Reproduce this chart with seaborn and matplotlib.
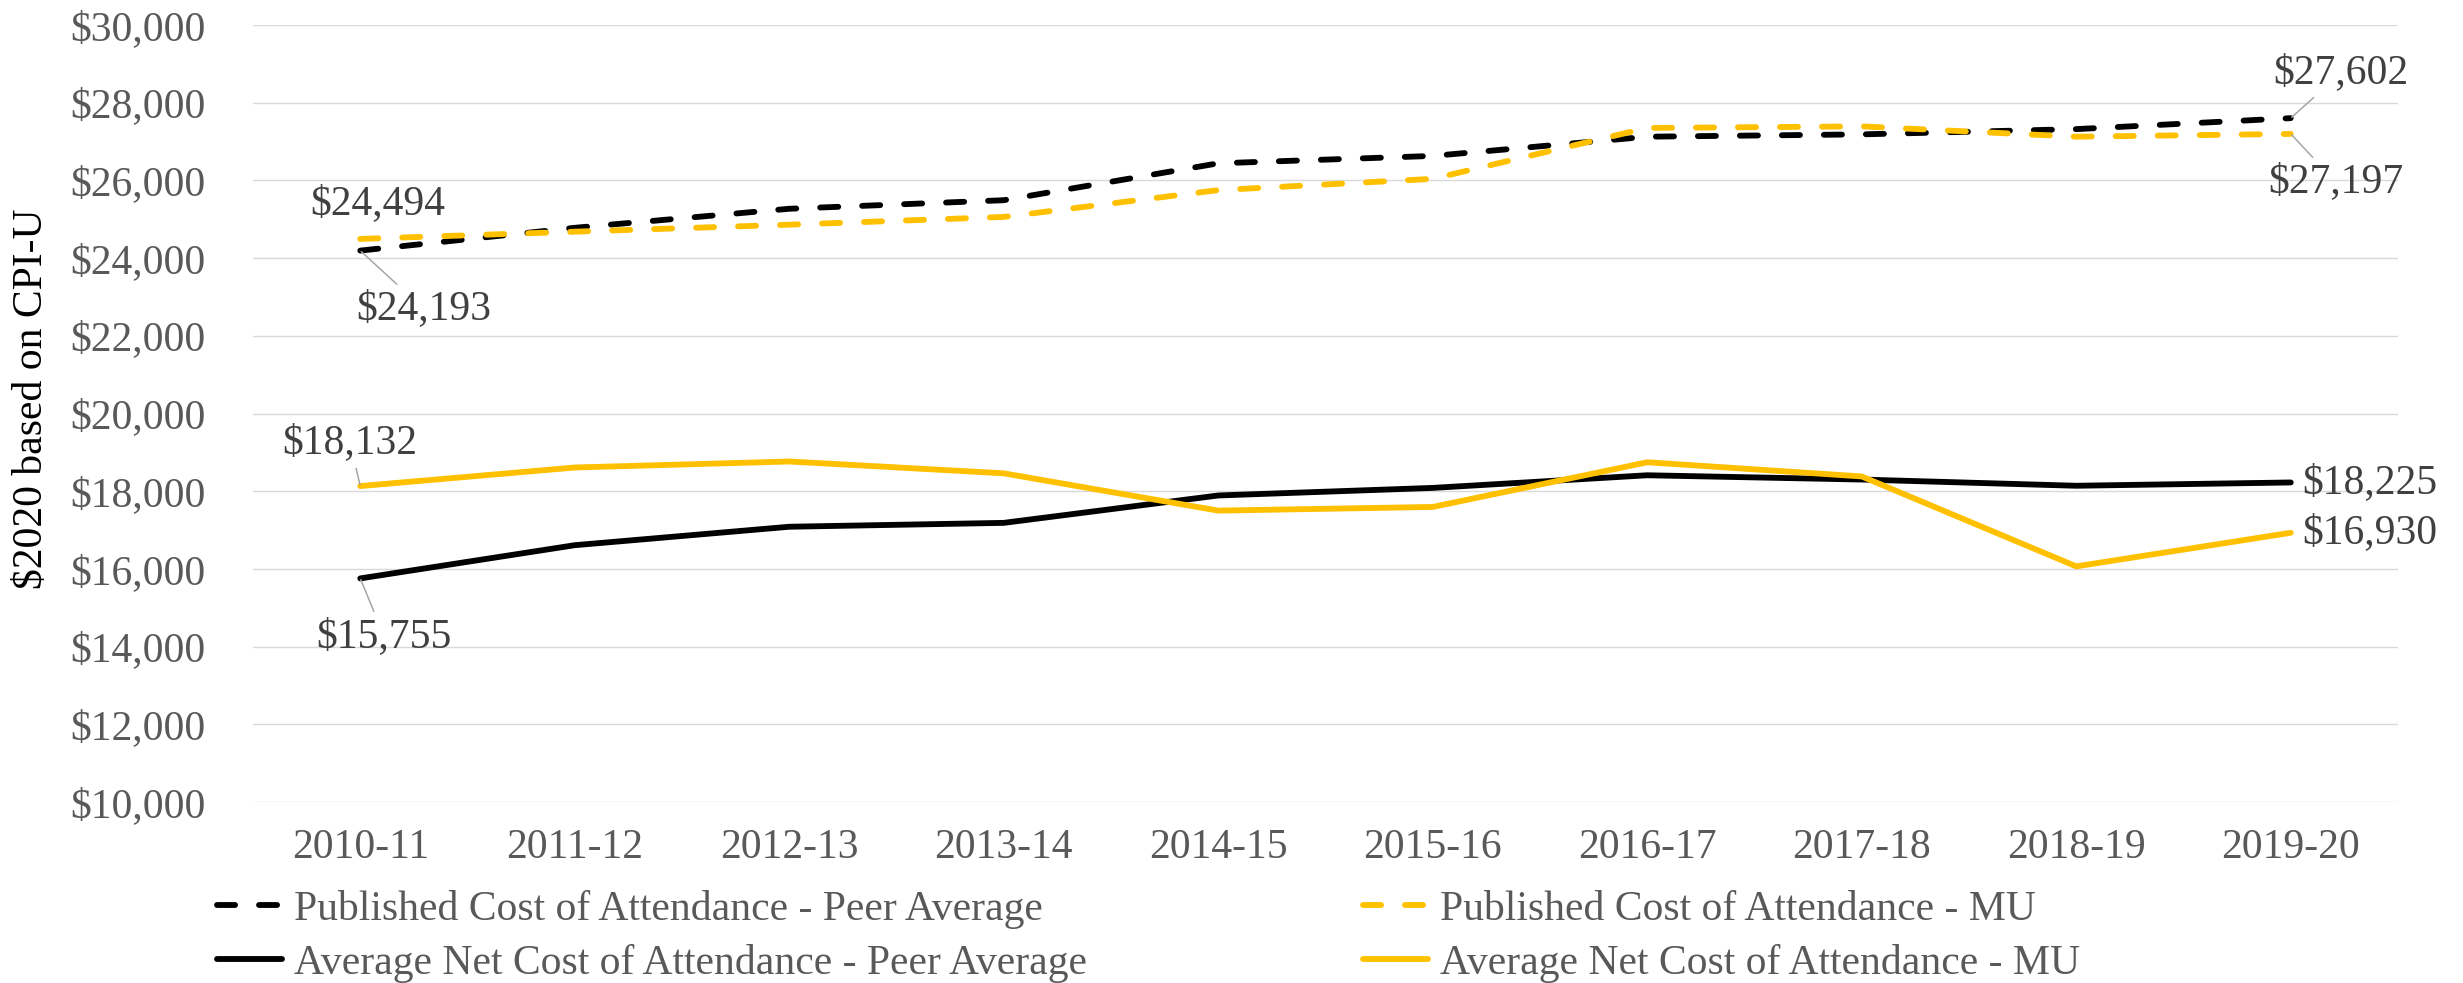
import matplotlib
matplotlib.use("Agg")
import matplotlib.pyplot as plt
import seaborn as sns
from matplotlib.ticker import FuncFormatter, MultipleLocator

# anni accademici
years = ["2010-11", "2011-12", "2012-13", "2013-14", "2014-15",
         "2015-16", "2016-17", "2017-18", "2018-19", "2019-20"]

# valori in $2020 (CPI-U)
pub_peer = [24193, 24780, 25270, 25490, 26440, 26630, 27125, 27185, 27320, 27602]
pub_mu = [24494, 24680, 24860, 25060, 25750, 26040, 27350, 27390, 27125, 27197]
net_peer = [15755, 16610, 17085, 17185, 17890, 18085, 18410, 18300, 18140, 18225]
net_mu = [18132, 18610, 18765, 18460, 17500, 17595, 18745, 18380, 16065, 16930]

names = ["Published Cost of Attendance - Peer Average",
         "Published Cost of Attendance - MU",
         "Average Net Cost of Attendance - Peer Average",
         "Average Net Cost of Attendance - MU"]

BLACK = "#000000"
GOLD = "#FFC000"
GRID = "#D9D9D9"
TICK = "#595959"
LABEL = "#404040"
LEADER = "#A6A6A6"
FS = 30
LW = 4.2

sns.set_style("white")
plt.rcParams["font.family"] = ["Liberation Serif", "DejaVu Serif"]

fig = plt.figure(figsize=(24.63, 9.83), dpi=100)
ax = fig.add_axes([253 / 2463, 1 - 802 / 983, 2145 / 2463, 777 / 983])

series = [(pub_peer, names[0], BLACK, True),
          (pub_mu, names[1], GOLD, True),
          (net_peer, names[2], BLACK, False),
          (net_mu, names[3], GOLD, False)]

for vals, name, col, dashed in series:
    sns.lineplot(x=years, y=vals, ax=ax, color=col, label=name, sort=False)
    line = ax.lines[-1]
    line.set_linewidth(LW)
    line.set_solid_capstyle("round")
    line.set_solid_joinstyle("round")
    if dashed:
        line.set_dashes((3.1, 4.1))
        line.set_dash_capstyle("round")

# assi
ax.set_xlim(-0.5, len(years) - 0.5)
ax.set_ylim(10000, 30000)
ax.yaxis.set_major_locator(MultipleLocator(2000))
ax.yaxis.set_major_formatter(FuncFormatter(lambda v, p: f"${v:,.0f}"))
ax.grid(axis="y", color=GRID, lw=1.0)
ax.grid(axis="x", visible=False)
ax.set_axisbelow(True)
for s in ax.spines.values():
    s.set_visible(False)
ax.tick_params(axis="y", length=0, pad=34, labelsize=FS, labelcolor=TICK)
ax.tick_params(axis="x", length=0, pad=19, labelsize=FS, labelcolor=TICK)
ax.set_xlabel("")
ax.set_ylabel("")

fig.text(32 / 2463, 1 - 399 / 983, "$2020 based on CPI-U", rotation=90,
         ha="center", va="center", fontsize=FS, color="black")


# etichette dei dati
def put_label(i, vals, dx, dy, ha="center", leader=True):
    props = None
    if leader:
        props = dict(arrowstyle="-", color=LEADER, lw=1.1, shrinkA=2, shrinkB=1)
    ax.annotate(f"${vals[i]:,.0f}", xy=(i, vals[i]), xytext=(dx, dy),
                textcoords="offset pixels", ha=ha, va="center",
                fontsize=FS, color=LABEL, arrowprops=props)


put_label(0, pub_mu, 17, 35, leader=False)
put_label(0, pub_peer, 63, -58)
put_label(0, net_mu, -10, 43)
put_label(0, net_peer, 24, -58)
put_label(9, pub_peer, 50, 45)
put_label(9, pub_mu, 45, -48)
put_label(9, net_peer, 12, 0, ha="left", leader=False)
put_label(9, net_mu, 12, 0, ha="left", leader=False)

# legenda
handles, labels = ax.get_legend_handles_labels()
ax.get_legend().remove()
order = [0, 2, 1, 3]
leg = fig.legend([handles[k] for k in order], [labels[k] for k in order],
                 ncol=2, loc="upper left", bbox_to_anchor=(217 / 2463, 1 - 890 / 983),
                 frameon=False, fontsize=FS, handlelength=1.56, handletextpad=0.3,
                 columnspacing=6.6, labelspacing=0.36, borderpad=0, borderaxespad=0)
for t in leg.get_texts():
    t.set_color(TICK)
for h in leg.get_lines():
    h.set_linewidth(LW)

fig.savefig("out.png", dpi=100)
